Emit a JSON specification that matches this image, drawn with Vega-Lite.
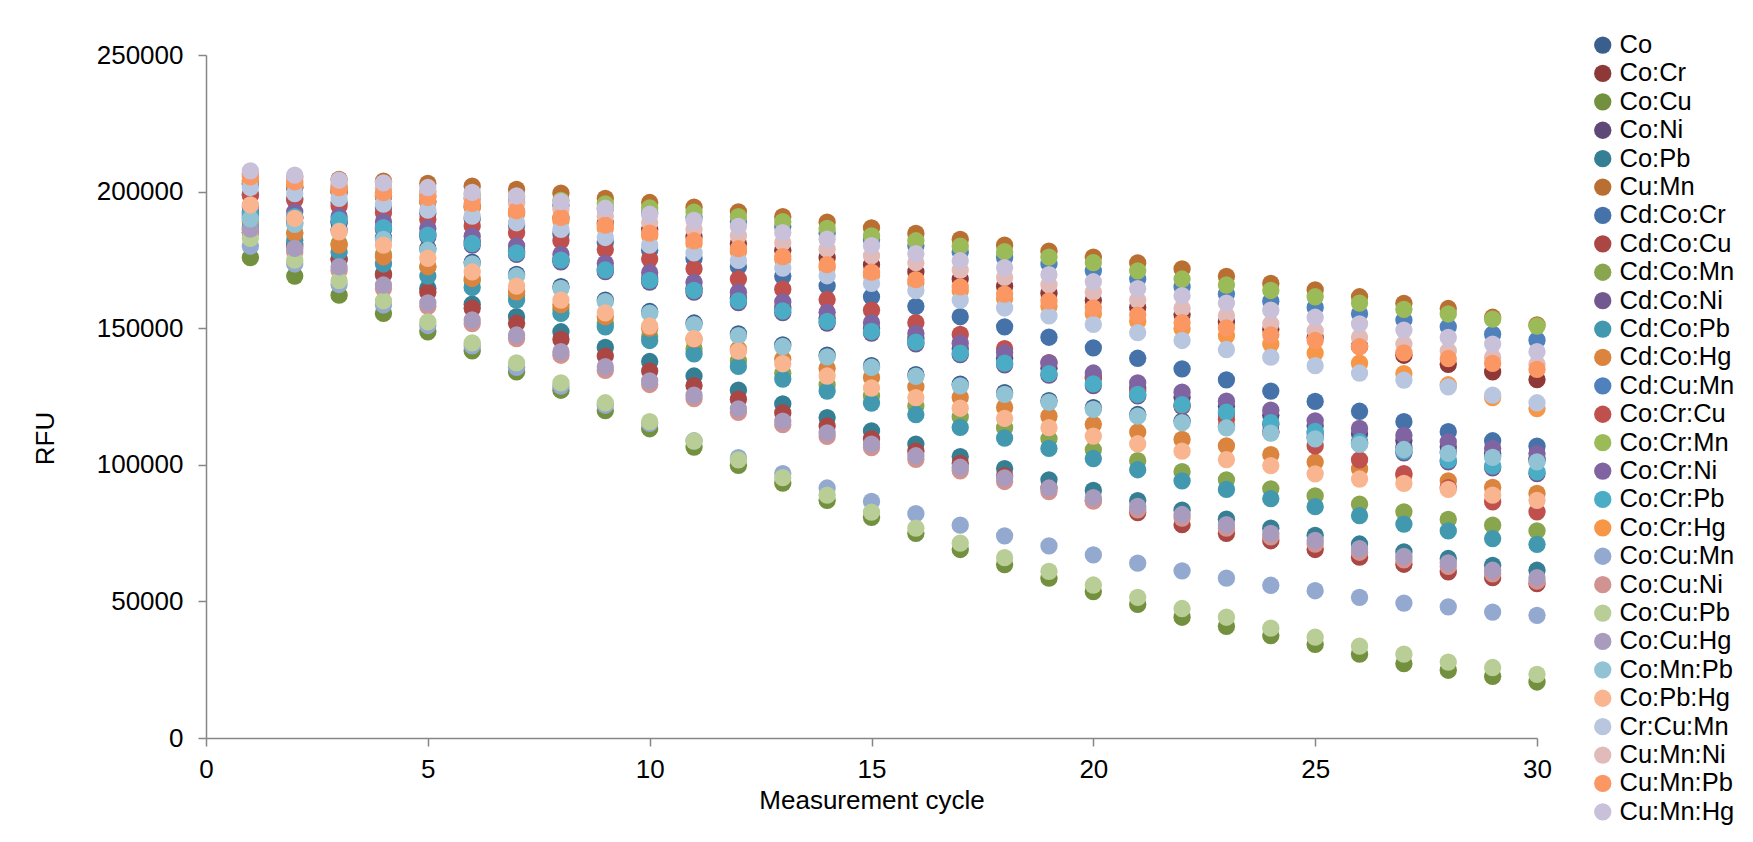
{
  "$schema": "https://vega.github.io/schema/vega-lite/v6.json",
  "width": 1331,
  "height": 683,
  "autosize": {"type": "none"},
  "padding": {"left": 206, "top": 55, "right": 216, "bottom": 104},
  "background": "white",
  "config": {"font": "Liberation Sans", "view": {"stroke": null}},
  "data": {"values": [
{"series":"Co","cycle":1,"rfu":190600},{"series":"Co","cycle":2,"rfu":188600},{"series":"Co","cycle":3,"rfu":186100},{"series":"Co","cycle":4,"rfu":183100},{"series":"Co","cycle":5,"rfu":179200},{"series":"Co","cycle":6,"rfu":174100},{"series":"Co","cycle":7,"rfu":169700},{"series":"Co","cycle":8,"rfu":165200},{"series":"Co","cycle":9,"rfu":160300},{"series":"Co","cycle":10,"rfu":156100},{"series":"Co","cycle":11,"rfu":151900},{"series":"Co","cycle":12,"rfu":147900},{"series":"Co","cycle":13,"rfu":143900},{"series":"Co","cycle":14,"rfu":140100},{"series":"Co","cycle":15,"rfu":136300},{"series":"Co","cycle":16,"rfu":133000},{"series":"Co","cycle":17,"rfu":129500},{"series":"Co","cycle":18,"rfu":126400},{"series":"Co","cycle":19,"rfu":123500},{"series":"Co","cycle":20,"rfu":120900},{"series":"Co","cycle":21,"rfu":118400},{"series":"Co","cycle":22,"rfu":116000},{"series":"Co","cycle":23,"rfu":114100},{"series":"Co","cycle":24,"rfu":112200},{"series":"Co","cycle":25,"rfu":110100},{"series":"Co","cycle":26,"rfu":108100},{"series":"Co","cycle":27,"rfu":106200},{"series":"Co","cycle":28,"rfu":104800},{"series":"Co","cycle":29,"rfu":103300},{"series":"Co","cycle":30,"rfu":101700},
{"series":"Co:Cr","cycle":1,"rfu":203000},{"series":"Co:Cr","cycle":2,"rfu":201400},{"series":"Co:Cr","cycle":3,"rfu":199800},{"series":"Co:Cr","cycle":4,"rfu":198100},{"series":"Co:Cr","cycle":5,"rfu":196300},{"series":"Co:Cr","cycle":6,"rfu":194400},{"series":"Co:Cr","cycle":7,"rfu":192500},{"series":"Co:Cr","cycle":8,"rfu":190500},{"series":"Co:Cr","cycle":9,"rfu":188500},{"series":"Co:Cr","cycle":10,"rfu":186000},{"series":"Co:Cr","cycle":11,"rfu":183600},{"series":"Co:Cr","cycle":12,"rfu":181000},{"series":"Co:Cr","cycle":13,"rfu":178500},{"series":"Co:Cr","cycle":14,"rfu":175800},{"series":"Co:Cr","cycle":15,"rfu":173200},{"series":"Co:Cr","cycle":16,"rfu":170600},{"series":"Co:Cr","cycle":17,"rfu":168000},{"series":"Co:Cr","cycle":18,"rfu":165400},{"series":"Co:Cr","cycle":19,"rfu":162800},{"series":"Co:Cr","cycle":20,"rfu":160200},{"series":"Co:Cr","cycle":21,"rfu":157600},{"series":"Co:Cr","cycle":22,"rfu":155000},{"series":"Co:Cr","cycle":23,"rfu":152300},{"series":"Co:Cr","cycle":24,"rfu":149600},{"series":"Co:Cr","cycle":25,"rfu":146600},{"series":"Co:Cr","cycle":26,"rfu":143400},{"series":"Co:Cr","cycle":27,"rfu":140100},{"series":"Co:Cr","cycle":28,"rfu":136800},{"series":"Co:Cr","cycle":29,"rfu":134000},{"series":"Co:Cr","cycle":30,"rfu":131200},
{"series":"Co:Cu","cycle":1,"rfu":175800},{"series":"Co:Cu","cycle":2,"rfu":169100},{"series":"Co:Cu","cycle":3,"rfu":162100},{"series":"Co:Cu","cycle":4,"rfu":155400},{"series":"Co:Cu","cycle":5,"rfu":148700},{"series":"Co:Cu","cycle":6,"rfu":141700},{"series":"Co:Cu","cycle":7,"rfu":134000},{"series":"Co:Cu","cycle":8,"rfu":127300},{"series":"Co:Cu","cycle":9,"rfu":119800},{"series":"Co:Cu","cycle":10,"rfu":113200},{"series":"Co:Cu","cycle":11,"rfu":106500},{"series":"Co:Cu","cycle":12,"rfu":99800},{"series":"Co:Cu","cycle":13,"rfu":93300},{"series":"Co:Cu","cycle":14,"rfu":87000},{"series":"Co:Cu","cycle":15,"rfu":80800},{"series":"Co:Cu","cycle":16,"rfu":74900},{"series":"Co:Cu","cycle":17,"rfu":69000},{"series":"Co:Cu","cycle":18,"rfu":63500},{"series":"Co:Cu","cycle":19,"rfu":58500},{"series":"Co:Cu","cycle":20,"rfu":53600},{"series":"Co:Cu","cycle":21,"rfu":48900},{"series":"Co:Cu","cycle":22,"rfu":44200},{"series":"Co:Cu","cycle":23,"rfu":40900},{"series":"Co:Cu","cycle":24,"rfu":37500},{"series":"Co:Cu","cycle":25,"rfu":34300},{"series":"Co:Cu","cycle":26,"rfu":30700},{"series":"Co:Cu","cycle":27,"rfu":27200},{"series":"Co:Cu","cycle":28,"rfu":24800},{"series":"Co:Cu","cycle":29,"rfu":22600},{"series":"Co:Cu","cycle":30,"rfu":20500},
{"series":"Co:Ni","cycle":1,"rfu":192500},{"series":"Co:Ni","cycle":2,"rfu":190600},{"series":"Co:Ni","cycle":3,"rfu":188700},{"series":"Co:Ni","cycle":4,"rfu":186800},{"series":"Co:Ni","cycle":5,"rfu":184400},{"series":"Co:Ni","cycle":6,"rfu":181600},{"series":"Co:Ni","cycle":7,"rfu":178200},{"series":"Co:Ni","cycle":8,"rfu":175000},{"series":"Co:Ni","cycle":9,"rfu":171600},{"series":"Co:Ni","cycle":10,"rfu":168200},{"series":"Co:Ni","cycle":11,"rfu":164600},{"series":"Co:Ni","cycle":12,"rfu":161000},{"series":"Co:Ni","cycle":13,"rfu":157400},{"series":"Co:Ni","cycle":14,"rfu":153600},{"series":"Co:Ni","cycle":15,"rfu":149900},{"series":"Co:Ni","cycle":16,"rfu":146100},{"series":"Co:Ni","cycle":17,"rfu":142500},{"series":"Co:Ni","cycle":18,"rfu":139000},{"series":"Co:Ni","cycle":19,"rfu":135300},{"series":"Co:Ni","cycle":20,"rfu":131700},{"series":"Co:Ni","cycle":21,"rfu":128100},{"series":"Co:Ni","cycle":22,"rfu":124700},{"series":"Co:Ni","cycle":23,"rfu":121400},{"series":"Co:Ni","cycle":24,"rfu":118100},{"series":"Co:Ni","cycle":25,"rfu":114300},{"series":"Co:Ni","cycle":26,"rfu":111400},{"series":"Co:Ni","cycle":27,"rfu":108900},{"series":"Co:Ni","cycle":28,"rfu":106500},{"series":"Co:Ni","cycle":29,"rfu":104200},{"series":"Co:Ni","cycle":30,"rfu":102300},
{"series":"Co:Pb","cycle":1,"rfu":186000},{"series":"Co:Pb","cycle":2,"rfu":180800},{"series":"Co:Pb","cycle":3,"rfu":175300},{"series":"Co:Pb","cycle":4,"rfu":170000},{"series":"Co:Pb","cycle":5,"rfu":164600},{"series":"Co:Pb","cycle":6,"rfu":158800},{"series":"Co:Pb","cycle":7,"rfu":154200},{"series":"Co:Pb","cycle":8,"rfu":148700},{"series":"Co:Pb","cycle":9,"rfu":143000},{"series":"Co:Pb","cycle":10,"rfu":137800},{"series":"Co:Pb","cycle":11,"rfu":132500},{"series":"Co:Pb","cycle":12,"rfu":127300},{"series":"Co:Pb","cycle":13,"rfu":122300},{"series":"Co:Pb","cycle":14,"rfu":117300},{"series":"Co:Pb","cycle":15,"rfu":112400},{"series":"Co:Pb","cycle":16,"rfu":107600},{"series":"Co:Pb","cycle":17,"rfu":103000},{"series":"Co:Pb","cycle":18,"rfu":98600},{"series":"Co:Pb","cycle":19,"rfu":94500},{"series":"Co:Pb","cycle":20,"rfu":90600},{"series":"Co:Pb","cycle":21,"rfu":86900},{"series":"Co:Pb","cycle":22,"rfu":83400},{"series":"Co:Pb","cycle":23,"rfu":80100},{"series":"Co:Pb","cycle":24,"rfu":76800},{"series":"Co:Pb","cycle":25,"rfu":74200},{"series":"Co:Pb","cycle":26,"rfu":71000},{"series":"Co:Pb","cycle":27,"rfu":68100},{"series":"Co:Pb","cycle":28,"rfu":65700},{"series":"Co:Pb","cycle":29,"rfu":63200},{"series":"Co:Pb","cycle":30,"rfu":61400},
{"series":"Cu:Mn","cycle":1,"rfu":206500},{"series":"Cu:Mn","cycle":2,"rfu":205500},{"series":"Cu:Mn","cycle":3,"rfu":204500},{"series":"Cu:Mn","cycle":4,"rfu":203800},{"series":"Cu:Mn","cycle":5,"rfu":203000},{"series":"Cu:Mn","cycle":6,"rfu":202000},{"series":"Cu:Mn","cycle":7,"rfu":200800},{"series":"Cu:Mn","cycle":8,"rfu":199400},{"series":"Cu:Mn","cycle":9,"rfu":197500},{"series":"Cu:Mn","cycle":10,"rfu":196000},{"series":"Cu:Mn","cycle":11,"rfu":194300},{"series":"Cu:Mn","cycle":12,"rfu":192600},{"series":"Cu:Mn","cycle":13,"rfu":190800},{"series":"Cu:Mn","cycle":14,"rfu":188800},{"series":"Cu:Mn","cycle":15,"rfu":186700},{"series":"Cu:Mn","cycle":16,"rfu":184700},{"series":"Cu:Mn","cycle":17,"rfu":182500},{"series":"Cu:Mn","cycle":18,"rfu":180400},{"series":"Cu:Mn","cycle":19,"rfu":178200},{"series":"Cu:Mn","cycle":20,"rfu":176000},{"series":"Cu:Mn","cycle":21,"rfu":173900},{"series":"Cu:Mn","cycle":22,"rfu":171700},{"series":"Cu:Mn","cycle":23,"rfu":169000},{"series":"Cu:Mn","cycle":24,"rfu":166400},{"series":"Cu:Mn","cycle":25,"rfu":164000},{"series":"Cu:Mn","cycle":26,"rfu":161500},{"series":"Cu:Mn","cycle":27,"rfu":159100},{"series":"Cu:Mn","cycle":28,"rfu":157200},{"series":"Cu:Mn","cycle":29,"rfu":154000},{"series":"Cu:Mn","cycle":30,"rfu":151200},
{"series":"Cd:Co:Cr","cycle":1,"rfu":199000},{"series":"Cd:Co:Cr","cycle":2,"rfu":197500},{"series":"Cd:Co:Cr","cycle":3,"rfu":196000},{"series":"Cd:Co:Cr","cycle":4,"rfu":194000},{"series":"Cd:Co:Cr","cycle":5,"rfu":192000},{"series":"Cd:Co:Cr","cycle":6,"rfu":190000},{"series":"Cd:Co:Cr","cycle":7,"rfu":187500},{"series":"Cd:Co:Cr","cycle":8,"rfu":184500},{"series":"Cd:Co:Cr","cycle":9,"rfu":181500},{"series":"Cd:Co:Cr","cycle":10,"rfu":178500},{"series":"Cd:Co:Cr","cycle":11,"rfu":175500},{"series":"Cd:Co:Cr","cycle":12,"rfu":172500},{"series":"Cd:Co:Cr","cycle":13,"rfu":169000},{"series":"Cd:Co:Cr","cycle":14,"rfu":165500},{"series":"Cd:Co:Cr","cycle":15,"rfu":161500},{"series":"Cd:Co:Cr","cycle":16,"rfu":158000},{"series":"Cd:Co:Cr","cycle":17,"rfu":154200},{"series":"Cd:Co:Cr","cycle":18,"rfu":150500},{"series":"Cd:Co:Cr","cycle":19,"rfu":146700},{"series":"Cd:Co:Cr","cycle":20,"rfu":142800},{"series":"Cd:Co:Cr","cycle":21,"rfu":139000},{"series":"Cd:Co:Cr","cycle":22,"rfu":135100},{"series":"Cd:Co:Cr","cycle":23,"rfu":131100},{"series":"Cd:Co:Cr","cycle":24,"rfu":127000},{"series":"Cd:Co:Cr","cycle":25,"rfu":123200},{"series":"Cd:Co:Cr","cycle":26,"rfu":119600},{"series":"Cd:Co:Cr","cycle":27,"rfu":115800},{"series":"Cd:Co:Cr","cycle":28,"rfu":112100},{"series":"Cd:Co:Cr","cycle":29,"rfu":108800},{"series":"Cd:Co:Cr","cycle":30,"rfu":106800},
{"series":"Cd:Co:Cu","cycle":1,"rfu":185000},{"series":"Cd:Co:Cu","cycle":2,"rfu":180000},{"series":"Cd:Co:Cu","cycle":3,"rfu":175200},{"series":"Cd:Co:Cu","cycle":4,"rfu":169500},{"series":"Cd:Co:Cu","cycle":5,"rfu":163200},{"series":"Cd:Co:Cu","cycle":6,"rfu":157300},{"series":"Cd:Co:Cu","cycle":7,"rfu":151800},{"series":"Cd:Co:Cu","cycle":8,"rfu":145900},{"series":"Cd:Co:Cu","cycle":9,"rfu":139800},{"series":"Cd:Co:Cu","cycle":10,"rfu":134300},{"series":"Cd:Co:Cu","cycle":11,"rfu":129000},{"series":"Cd:Co:Cu","cycle":12,"rfu":124000},{"series":"Cd:Co:Cu","cycle":13,"rfu":119000},{"series":"Cd:Co:Cu","cycle":14,"rfu":114200},{"series":"Cd:Co:Cu","cycle":15,"rfu":109500},{"series":"Cd:Co:Cu","cycle":16,"rfu":105000},{"series":"Cd:Co:Cu","cycle":17,"rfu":100500},{"series":"Cd:Co:Cu","cycle":18,"rfu":96000},{"series":"Cd:Co:Cu","cycle":19,"rfu":91500},{"series":"Cd:Co:Cu","cycle":20,"rfu":87000},{"series":"Cd:Co:Cu","cycle":21,"rfu":82500},{"series":"Cd:Co:Cu","cycle":22,"rfu":78100},{"series":"Cd:Co:Cu","cycle":23,"rfu":74900},{"series":"Cd:Co:Cu","cycle":24,"rfu":72200},{"series":"Cd:Co:Cu","cycle":25,"rfu":69000},{"series":"Cd:Co:Cu","cycle":26,"rfu":66200},{"series":"Cd:Co:Cu","cycle":27,"rfu":63600},{"series":"Cd:Co:Cu","cycle":28,"rfu":60800},{"series":"Cd:Co:Cu","cycle":29,"rfu":58700},{"series":"Cd:Co:Cu","cycle":30,"rfu":56500},
{"series":"Cd:Co:Mn","cycle":1,"rfu":189000},{"series":"Cd:Co:Mn","cycle":2,"rfu":185000},{"series":"Cd:Co:Mn","cycle":3,"rfu":181000},{"series":"Cd:Co:Mn","cycle":4,"rfu":177000},{"series":"Cd:Co:Mn","cycle":5,"rfu":172500},{"series":"Cd:Co:Mn","cycle":6,"rfu":167500},{"series":"Cd:Co:Mn","cycle":7,"rfu":162000},{"series":"Cd:Co:Mn","cycle":8,"rfu":157000},{"series":"Cd:Co:Mn","cycle":9,"rfu":152000},{"series":"Cd:Co:Mn","cycle":10,"rfu":147000},{"series":"Cd:Co:Mn","cycle":11,"rfu":142500},{"series":"Cd:Co:Mn","cycle":12,"rfu":138000},{"series":"Cd:Co:Mn","cycle":13,"rfu":133500},{"series":"Cd:Co:Mn","cycle":14,"rfu":129300},{"series":"Cd:Co:Mn","cycle":15,"rfu":125200},{"series":"Cd:Co:Mn","cycle":16,"rfu":121500},{"series":"Cd:Co:Mn","cycle":17,"rfu":117500},{"series":"Cd:Co:Mn","cycle":18,"rfu":113500},{"series":"Cd:Co:Mn","cycle":19,"rfu":109500},{"series":"Cd:Co:Mn","cycle":20,"rfu":105500},{"series":"Cd:Co:Mn","cycle":21,"rfu":101500},{"series":"Cd:Co:Mn","cycle":22,"rfu":97500},{"series":"Cd:Co:Mn","cycle":23,"rfu":94500},{"series":"Cd:Co:Mn","cycle":24,"rfu":91200},{"series":"Cd:Co:Mn","cycle":25,"rfu":88600},{"series":"Cd:Co:Mn","cycle":26,"rfu":85600},{"series":"Cd:Co:Mn","cycle":27,"rfu":82800},{"series":"Cd:Co:Mn","cycle":28,"rfu":80000},{"series":"Cd:Co:Mn","cycle":29,"rfu":77900},{"series":"Cd:Co:Mn","cycle":30,"rfu":75800},
{"series":"Cd:Co:Ni","cycle":1,"rfu":191400},{"series":"Cd:Co:Ni","cycle":2,"rfu":190200},{"series":"Cd:Co:Ni","cycle":3,"rfu":189000},{"series":"Cd:Co:Ni","cycle":4,"rfu":186200},{"series":"Cd:Co:Ni","cycle":5,"rfu":183500},{"series":"Cd:Co:Ni","cycle":6,"rfu":180400},{"series":"Cd:Co:Ni","cycle":7,"rfu":177000},{"series":"Cd:Co:Ni","cycle":8,"rfu":174300},{"series":"Cd:Co:Ni","cycle":9,"rfu":170700},{"series":"Cd:Co:Ni","cycle":10,"rfu":166900},{"series":"Cd:Co:Ni","cycle":11,"rfu":163200},{"series":"Cd:Co:Ni","cycle":12,"rfu":159400},{"series":"Cd:Co:Ni","cycle":13,"rfu":155700},{"series":"Cd:Co:Ni","cycle":14,"rfu":151900},{"series":"Cd:Co:Ni","cycle":15,"rfu":148200},{"series":"Cd:Co:Ni","cycle":16,"rfu":144300},{"series":"Cd:Co:Ni","cycle":17,"rfu":140300},{"series":"Cd:Co:Ni","cycle":18,"rfu":136600},{"series":"Cd:Co:Ni","cycle":19,"rfu":132800},{"series":"Cd:Co:Ni","cycle":20,"rfu":129000},{"series":"Cd:Co:Ni","cycle":21,"rfu":125200},{"series":"Cd:Co:Ni","cycle":22,"rfu":121400},{"series":"Cd:Co:Ni","cycle":23,"rfu":118700},{"series":"Cd:Co:Ni","cycle":24,"rfu":114800},{"series":"Cd:Co:Ni","cycle":25,"rfu":111600},{"series":"Cd:Co:Ni","cycle":26,"rfu":107900},{"series":"Cd:Co:Ni","cycle":27,"rfu":104400},{"series":"Cd:Co:Ni","cycle":28,"rfu":101100},{"series":"Cd:Co:Ni","cycle":29,"rfu":98900},{"series":"Cd:Co:Ni","cycle":30,"rfu":96800},
{"series":"Cd:Co:Pb","cycle":1,"rfu":187000},{"series":"Cd:Co:Pb","cycle":2,"rfu":182200},{"series":"Cd:Co:Pb","cycle":3,"rfu":178000},{"series":"Cd:Co:Pb","cycle":4,"rfu":173500},{"series":"Cd:Co:Pb","cycle":5,"rfu":169100},{"series":"Cd:Co:Pb","cycle":6,"rfu":164900},{"series":"Cd:Co:Pb","cycle":7,"rfu":160300},{"series":"Cd:Co:Pb","cycle":8,"rfu":155400},{"series":"Cd:Co:Pb","cycle":9,"rfu":150500},{"series":"Cd:Co:Pb","cycle":10,"rfu":145500},{"series":"Cd:Co:Pb","cycle":11,"rfu":140600},{"series":"Cd:Co:Pb","cycle":12,"rfu":136000},{"series":"Cd:Co:Pb","cycle":13,"rfu":131400},{"series":"Cd:Co:Pb","cycle":14,"rfu":127000},{"series":"Cd:Co:Pb","cycle":15,"rfu":122600},{"series":"Cd:Co:Pb","cycle":16,"rfu":118400},{"series":"Cd:Co:Pb","cycle":17,"rfu":113700},{"series":"Cd:Co:Pb","cycle":18,"rfu":109800},{"series":"Cd:Co:Pb","cycle":19,"rfu":106000},{"series":"Cd:Co:Pb","cycle":20,"rfu":102300},{"series":"Cd:Co:Pb","cycle":21,"rfu":98200},{"series":"Cd:Co:Pb","cycle":22,"rfu":94100},{"series":"Cd:Co:Pb","cycle":23,"rfu":91000},{"series":"Cd:Co:Pb","cycle":24,"rfu":87600},{"series":"Cd:Co:Pb","cycle":25,"rfu":84700},{"series":"Cd:Co:Pb","cycle":26,"rfu":81400},{"series":"Cd:Co:Pb","cycle":27,"rfu":78300},{"series":"Cd:Co:Pb","cycle":28,"rfu":75800},{"series":"Cd:Co:Pb","cycle":29,"rfu":73000},{"series":"Cd:Co:Pb","cycle":30,"rfu":70900},
{"series":"Cd:Co:Hg","cycle":1,"rfu":189600},{"series":"Cd:Co:Hg","cycle":2,"rfu":184700},{"series":"Cd:Co:Hg","cycle":3,"rfu":180400},{"series":"Cd:Co:Hg","cycle":4,"rfu":176100},{"series":"Cd:Co:Hg","cycle":5,"rfu":172500},{"series":"Cd:Co:Hg","cycle":6,"rfu":168200},{"series":"Cd:Co:Hg","cycle":7,"rfu":163300},{"series":"Cd:Co:Hg","cycle":8,"rfu":158600},{"series":"Cd:Co:Hg","cycle":9,"rfu":154200},{"series":"Cd:Co:Hg","cycle":10,"rfu":150000},{"series":"Cd:Co:Hg","cycle":11,"rfu":146000},{"series":"Cd:Co:Hg","cycle":12,"rfu":142300},{"series":"Cd:Co:Hg","cycle":13,"rfu":138700},{"series":"Cd:Co:Hg","cycle":14,"rfu":135300},{"series":"Cd:Co:Hg","cycle":15,"rfu":132000},{"series":"Cd:Co:Hg","cycle":16,"rfu":128500},{"series":"Cd:Co:Hg","cycle":17,"rfu":124700},{"series":"Cd:Co:Hg","cycle":18,"rfu":121000},{"series":"Cd:Co:Hg","cycle":19,"rfu":117800},{"series":"Cd:Co:Hg","cycle":20,"rfu":114800},{"series":"Cd:Co:Hg","cycle":21,"rfu":112000},{"series":"Cd:Co:Hg","cycle":22,"rfu":109300},{"series":"Cd:Co:Hg","cycle":23,"rfu":106900},{"series":"Cd:Co:Hg","cycle":24,"rfu":103700},{"series":"Cd:Co:Hg","cycle":25,"rfu":101000},{"series":"Cd:Co:Hg","cycle":26,"rfu":98500},{"series":"Cd:Co:Hg","cycle":27,"rfu":96200},{"series":"Cd:Co:Hg","cycle":28,"rfu":94100},{"series":"Cd:Co:Hg","cycle":29,"rfu":91700},{"series":"Cd:Co:Hg","cycle":30,"rfu":89500},
{"series":"Cd:Cu:Mn","cycle":1,"rfu":202500},{"series":"Cd:Cu:Mn","cycle":2,"rfu":201500},{"series":"Cd:Cu:Mn","cycle":3,"rfu":200500},{"series":"Cd:Cu:Mn","cycle":4,"rfu":199500},{"series":"Cd:Cu:Mn","cycle":5,"rfu":198500},{"series":"Cd:Cu:Mn","cycle":6,"rfu":197500},{"series":"Cd:Cu:Mn","cycle":7,"rfu":196300},{"series":"Cd:Cu:Mn","cycle":8,"rfu":195000},{"series":"Cd:Cu:Mn","cycle":9,"rfu":193700},{"series":"Cd:Cu:Mn","cycle":10,"rfu":192200},{"series":"Cd:Cu:Mn","cycle":11,"rfu":190600},{"series":"Cd:Cu:Mn","cycle":12,"rfu":189000},{"series":"Cd:Cu:Mn","cycle":13,"rfu":187200},{"series":"Cd:Cu:Mn","cycle":14,"rfu":184800},{"series":"Cd:Cu:Mn","cycle":15,"rfu":182300},{"series":"Cd:Cu:Mn","cycle":16,"rfu":180200},{"series":"Cd:Cu:Mn","cycle":17,"rfu":178000},{"series":"Cd:Cu:Mn","cycle":18,"rfu":175800},{"series":"Cd:Cu:Mn","cycle":19,"rfu":173500},{"series":"Cd:Cu:Mn","cycle":20,"rfu":171000},{"series":"Cd:Cu:Mn","cycle":21,"rfu":168000},{"series":"Cd:Cu:Mn","cycle":22,"rfu":165100},{"series":"Cd:Cu:Mn","cycle":23,"rfu":162500},{"series":"Cd:Cu:Mn","cycle":24,"rfu":159900},{"series":"Cd:Cu:Mn","cycle":25,"rfu":157600},{"series":"Cd:Cu:Mn","cycle":26,"rfu":155300},{"series":"Cd:Cu:Mn","cycle":27,"rfu":153000},{"series":"Cd:Cu:Mn","cycle":28,"rfu":150500},{"series":"Cd:Cu:Mn","cycle":29,"rfu":147800},{"series":"Cd:Cu:Mn","cycle":30,"rfu":145600},
{"series":"Co:Cr:Cu","cycle":1,"rfu":198700},{"series":"Co:Cr:Cu","cycle":2,"rfu":196900},{"series":"Co:Cr:Cu","cycle":3,"rfu":194700},{"series":"Co:Cr:Cu","cycle":4,"rfu":192300},{"series":"Co:Cr:Cu","cycle":5,"rfu":189800},{"series":"Co:Cr:Cu","cycle":6,"rfu":187400},{"series":"Co:Cr:Cu","cycle":7,"rfu":184900},{"series":"Co:Cr:Cu","cycle":8,"rfu":182000},{"series":"Co:Cr:Cu","cycle":9,"rfu":178800},{"series":"Co:Cr:Cu","cycle":10,"rfu":175300},{"series":"Co:Cr:Cu","cycle":11,"rfu":171800},{"series":"Co:Cr:Cu","cycle":12,"rfu":168000},{"series":"Co:Cr:Cu","cycle":13,"rfu":164300},{"series":"Co:Cr:Cu","cycle":14,"rfu":160500},{"series":"Co:Cr:Cu","cycle":15,"rfu":156600},{"series":"Co:Cr:Cu","cycle":16,"rfu":152000},{"series":"Co:Cr:Cu","cycle":17,"rfu":147700},{"series":"Co:Cr:Cu","cycle":18,"rfu":142500},{"series":"Co:Cr:Cu","cycle":19,"rfu":137400},{"series":"Co:Cr:Cu","cycle":20,"rfu":132200},{"series":"Co:Cr:Cu","cycle":21,"rfu":127000},{"series":"Co:Cr:Cu","cycle":22,"rfu":121800},{"series":"Co:Cr:Cu","cycle":23,"rfu":116700},{"series":"Co:Cr:Cu","cycle":24,"rfu":111800},{"series":"Co:Cr:Cu","cycle":25,"rfu":106900},{"series":"Co:Cr:Cu","cycle":26,"rfu":101800},{"series":"Co:Cr:Cu","cycle":27,"rfu":96800},{"series":"Co:Cr:Cu","cycle":28,"rfu":91600},{"series":"Co:Cr:Cu","cycle":29,"rfu":86400},{"series":"Co:Cr:Cu","cycle":30,"rfu":82800},
{"series":"Co:Cr:Mn","cycle":1,"rfu":204000},{"series":"Co:Cr:Mn","cycle":2,"rfu":203000},{"series":"Co:Cr:Mn","cycle":3,"rfu":202000},{"series":"Co:Cr:Mn","cycle":4,"rfu":201000},{"series":"Co:Cr:Mn","cycle":5,"rfu":200000},{"series":"Co:Cr:Mn","cycle":6,"rfu":199000},{"series":"Co:Cr:Mn","cycle":7,"rfu":198000},{"series":"Co:Cr:Mn","cycle":8,"rfu":196800},{"series":"Co:Cr:Mn","cycle":9,"rfu":195500},{"series":"Co:Cr:Mn","cycle":10,"rfu":194000},{"series":"Co:Cr:Mn","cycle":11,"rfu":192500},{"series":"Co:Cr:Mn","cycle":12,"rfu":190800},{"series":"Co:Cr:Mn","cycle":13,"rfu":189000},{"series":"Co:Cr:Mn","cycle":14,"rfu":186500},{"series":"Co:Cr:Mn","cycle":15,"rfu":183800},{"series":"Co:Cr:Mn","cycle":16,"rfu":182000},{"series":"Co:Cr:Mn","cycle":17,"rfu":180000},{"series":"Co:Cr:Mn","cycle":18,"rfu":178000},{"series":"Co:Cr:Mn","cycle":19,"rfu":176000},{"series":"Co:Cr:Mn","cycle":20,"rfu":174000},{"series":"Co:Cr:Mn","cycle":21,"rfu":171000},{"series":"Co:Cr:Mn","cycle":22,"rfu":168000},{"series":"Co:Cr:Mn","cycle":23,"rfu":165800},{"series":"Co:Cr:Mn","cycle":24,"rfu":163800},{"series":"Co:Cr:Mn","cycle":25,"rfu":161500},{"series":"Co:Cr:Mn","cycle":26,"rfu":159200},{"series":"Co:Cr:Mn","cycle":27,"rfu":156900},{"series":"Co:Cr:Mn","cycle":28,"rfu":155200},{"series":"Co:Cr:Mn","cycle":29,"rfu":153300},{"series":"Co:Cr:Mn","cycle":30,"rfu":150800},
{"series":"Co:Cr:Ni","cycle":1,"rfu":194500},{"series":"Co:Cr:Ni","cycle":2,"rfu":192600},{"series":"Co:Cr:Ni","cycle":3,"rfu":190800},{"series":"Co:Cr:Ni","cycle":4,"rfu":189000},{"series":"Co:Cr:Ni","cycle":5,"rfu":186500},{"series":"Co:Cr:Ni","cycle":6,"rfu":183700},{"series":"Co:Cr:Ni","cycle":7,"rfu":180100},{"series":"Co:Cr:Ni","cycle":8,"rfu":177000},{"series":"Co:Cr:Ni","cycle":9,"rfu":173700},{"series":"Co:Cr:Ni","cycle":10,"rfu":170300},{"series":"Co:Cr:Ni","cycle":11,"rfu":166800},{"series":"Co:Cr:Ni","cycle":12,"rfu":163200},{"series":"Co:Cr:Ni","cycle":13,"rfu":159600},{"series":"Co:Cr:Ni","cycle":14,"rfu":155800},{"series":"Co:Cr:Ni","cycle":15,"rfu":152000},{"series":"Co:Cr:Ni","cycle":16,"rfu":148100},{"series":"Co:Cr:Ni","cycle":17,"rfu":144500},{"series":"Co:Cr:Ni","cycle":18,"rfu":141000},{"series":"Co:Cr:Ni","cycle":19,"rfu":137300},{"series":"Co:Cr:Ni","cycle":20,"rfu":133600},{"series":"Co:Cr:Ni","cycle":21,"rfu":130000},{"series":"Co:Cr:Ni","cycle":22,"rfu":126600},{"series":"Co:Cr:Ni","cycle":23,"rfu":123300},{"series":"Co:Cr:Ni","cycle":24,"rfu":120000},{"series":"Co:Cr:Ni","cycle":25,"rfu":116100},{"series":"Co:Cr:Ni","cycle":26,"rfu":113300},{"series":"Co:Cr:Ni","cycle":27,"rfu":110800},{"series":"Co:Cr:Ni","cycle":28,"rfu":108400},{"series":"Co:Cr:Ni","cycle":29,"rfu":106000},{"series":"Co:Cr:Ni","cycle":30,"rfu":104100},
{"series":"Co:Cr:Pb","cycle":1,"rfu":192000},{"series":"Co:Cr:Pb","cycle":2,"rfu":190800},{"series":"Co:Cr:Pb","cycle":3,"rfu":189600},{"series":"Co:Cr:Pb","cycle":4,"rfu":186800},{"series":"Co:Cr:Pb","cycle":5,"rfu":184100},{"series":"Co:Cr:Pb","cycle":6,"rfu":181000},{"series":"Co:Cr:Pb","cycle":7,"rfu":177600},{"series":"Co:Cr:Pb","cycle":8,"rfu":174900},{"series":"Co:Cr:Pb","cycle":9,"rfu":171300},{"series":"Co:Cr:Pb","cycle":10,"rfu":167500},{"series":"Co:Cr:Pb","cycle":11,"rfu":163800},{"series":"Co:Cr:Pb","cycle":12,"rfu":160000},{"series":"Co:Cr:Pb","cycle":13,"rfu":156300},{"series":"Co:Cr:Pb","cycle":14,"rfu":152500},{"series":"Co:Cr:Pb","cycle":15,"rfu":148800},{"series":"Co:Cr:Pb","cycle":16,"rfu":144900},{"series":"Co:Cr:Pb","cycle":17,"rfu":140900},{"series":"Co:Cr:Pb","cycle":18,"rfu":137200},{"series":"Co:Cr:Pb","cycle":19,"rfu":133400},{"series":"Co:Cr:Pb","cycle":20,"rfu":129600},{"series":"Co:Cr:Pb","cycle":21,"rfu":125800},{"series":"Co:Cr:Pb","cycle":22,"rfu":122000},{"series":"Co:Cr:Pb","cycle":23,"rfu":119300},{"series":"Co:Cr:Pb","cycle":24,"rfu":115400},{"series":"Co:Cr:Pb","cycle":25,"rfu":112200},{"series":"Co:Cr:Pb","cycle":26,"rfu":108500},{"series":"Co:Cr:Pb","cycle":27,"rfu":105000},{"series":"Co:Cr:Pb","cycle":28,"rfu":101700},{"series":"Co:Cr:Pb","cycle":29,"rfu":99500},{"series":"Co:Cr:Pb","cycle":30,"rfu":97400},
{"series":"Co:Cr:Hg","cycle":1,"rfu":204000},{"series":"Co:Cr:Hg","cycle":2,"rfu":202200},{"series":"Co:Cr:Hg","cycle":3,"rfu":200300},{"series":"Co:Cr:Hg","cycle":4,"rfu":198400},{"series":"Co:Cr:Hg","cycle":5,"rfu":196400},{"series":"Co:Cr:Hg","cycle":6,"rfu":194200},{"series":"Co:Cr:Hg","cycle":7,"rfu":191800},{"series":"Co:Cr:Hg","cycle":8,"rfu":189300},{"series":"Co:Cr:Hg","cycle":9,"rfu":186600},{"series":"Co:Cr:Hg","cycle":10,"rfu":183800},{"series":"Co:Cr:Hg","cycle":11,"rfu":181000},{"series":"Co:Cr:Hg","cycle":12,"rfu":178100},{"series":"Co:Cr:Hg","cycle":13,"rfu":175200},{"series":"Co:Cr:Hg","cycle":14,"rfu":172300},{"series":"Co:Cr:Hg","cycle":15,"rfu":169300},{"series":"Co:Cr:Hg","cycle":16,"rfu":166500},{"series":"Co:Cr:Hg","cycle":17,"rfu":163600},{"series":"Co:Cr:Hg","cycle":18,"rfu":160800},{"series":"Co:Cr:Hg","cycle":19,"rfu":158000},{"series":"Co:Cr:Hg","cycle":20,"rfu":155200},{"series":"Co:Cr:Hg","cycle":21,"rfu":152500},{"series":"Co:Cr:Hg","cycle":22,"rfu":149800},{"series":"Co:Cr:Hg","cycle":23,"rfu":147200},{"series":"Co:Cr:Hg","cycle":24,"rfu":144200},{"series":"Co:Cr:Hg","cycle":25,"rfu":140900},{"series":"Co:Cr:Hg","cycle":26,"rfu":137200},{"series":"Co:Cr:Hg","cycle":27,"rfu":133400},{"series":"Co:Cr:Hg","cycle":28,"rfu":129300},{"series":"Co:Cr:Hg","cycle":29,"rfu":124600},{"series":"Co:Cr:Hg","cycle":30,"rfu":120600},
{"series":"Co:Cu:Mn","cycle":1,"rfu":180000},{"series":"Co:Cu:Mn","cycle":2,"rfu":173500},{"series":"Co:Cu:Mn","cycle":3,"rfu":166000},{"series":"Co:Cu:Mn","cycle":4,"rfu":158500},{"series":"Co:Cu:Mn","cycle":5,"rfu":151000},{"series":"Co:Cu:Mn","cycle":6,"rfu":143500},{"series":"Co:Cu:Mn","cycle":7,"rfu":135700},{"series":"Co:Cu:Mn","cycle":8,"rfu":128800},{"series":"Co:Cu:Mn","cycle":9,"rfu":121800},{"series":"Co:Cu:Mn","cycle":10,"rfu":115200},{"series":"Co:Cu:Mn","cycle":11,"rfu":108800},{"series":"Co:Cu:Mn","cycle":12,"rfu":102600},{"series":"Co:Cu:Mn","cycle":13,"rfu":96800},{"series":"Co:Cu:Mn","cycle":14,"rfu":91500},{"series":"Co:Cu:Mn","cycle":15,"rfu":86600},{"series":"Co:Cu:Mn","cycle":16,"rfu":82100},{"series":"Co:Cu:Mn","cycle":17,"rfu":77900},{"series":"Co:Cu:Mn","cycle":18,"rfu":74000},{"series":"Co:Cu:Mn","cycle":19,"rfu":70300},{"series":"Co:Cu:Mn","cycle":20,"rfu":67000},{"series":"Co:Cu:Mn","cycle":21,"rfu":64000},{"series":"Co:Cu:Mn","cycle":22,"rfu":61200},{"series":"Co:Cu:Mn","cycle":23,"rfu":58500},{"series":"Co:Cu:Mn","cycle":24,"rfu":55900},{"series":"Co:Cu:Mn","cycle":25,"rfu":53900},{"series":"Co:Cu:Mn","cycle":26,"rfu":51500},{"series":"Co:Cu:Mn","cycle":27,"rfu":49400},{"series":"Co:Cu:Mn","cycle":28,"rfu":48000},{"series":"Co:Cu:Mn","cycle":29,"rfu":46100},{"series":"Co:Cu:Mn","cycle":30,"rfu":44900},
{"series":"Co:Cu:Ni","cycle":1,"rfu":185000},{"series":"Co:Cu:Ni","cycle":2,"rfu":177900},{"series":"Co:Cu:Ni","cycle":3,"rfu":171200},{"series":"Co:Cu:Ni","cycle":4,"rfu":164500},{"series":"Co:Cu:Ni","cycle":5,"rfu":158000},{"series":"Co:Cu:Ni","cycle":6,"rfu":151700},{"series":"Co:Cu:Ni","cycle":7,"rfu":146200},{"series":"Co:Cu:Ni","cycle":8,"rfu":140100},{"series":"Co:Cu:Ni","cycle":9,"rfu":134600},{"series":"Co:Cu:Ni","cycle":10,"rfu":129400},{"series":"Co:Cu:Ni","cycle":11,"rfu":124200},{"series":"Co:Cu:Ni","cycle":12,"rfu":119200},{"series":"Co:Cu:Ni","cycle":13,"rfu":114700},{"series":"Co:Cu:Ni","cycle":14,"rfu":110400},{"series":"Co:Cu:Ni","cycle":15,"rfu":106300},{"series":"Co:Cu:Ni","cycle":16,"rfu":102000},{"series":"Co:Cu:Ni","cycle":17,"rfu":97800},{"series":"Co:Cu:Ni","cycle":18,"rfu":93900},{"series":"Co:Cu:Ni","cycle":19,"rfu":90200},{"series":"Co:Cu:Ni","cycle":20,"rfu":86700},{"series":"Co:Cu:Ni","cycle":21,"rfu":83500},{"series":"Co:Cu:Ni","cycle":22,"rfu":80500},{"series":"Co:Cu:Ni","cycle":23,"rfu":76800},{"series":"Co:Cu:Ni","cycle":24,"rfu":73600},{"series":"Co:Cu:Ni","cycle":25,"rfu":71000},{"series":"Co:Cu:Ni","cycle":26,"rfu":68000},{"series":"Co:Cu:Ni","cycle":27,"rfu":65200},{"series":"Co:Cu:Ni","cycle":28,"rfu":62800},{"series":"Co:Cu:Ni","cycle":29,"rfu":60100},{"series":"Co:Cu:Ni","cycle":30,"rfu":57400},
{"series":"Co:Cu:Pb","cycle":1,"rfu":182900},{"series":"Co:Cu:Pb","cycle":2,"rfu":174900},{"series":"Co:Cu:Pb","cycle":3,"rfu":167400},{"series":"Co:Cu:Pb","cycle":4,"rfu":160000},{"series":"Co:Cu:Pb","cycle":5,"rfu":152300},{"series":"Co:Cu:Pb","cycle":6,"rfu":144600},{"series":"Co:Cu:Pb","cycle":7,"rfu":137300},{"series":"Co:Cu:Pb","cycle":8,"rfu":130000},{"series":"Co:Cu:Pb","cycle":9,"rfu":122700},{"series":"Co:Cu:Pb","cycle":10,"rfu":115800},{"series":"Co:Cu:Pb","cycle":11,"rfu":108700},{"series":"Co:Cu:Pb","cycle":12,"rfu":101800},{"series":"Co:Cu:Pb","cycle":13,"rfu":95300},{"series":"Co:Cu:Pb","cycle":14,"rfu":88900},{"series":"Co:Cu:Pb","cycle":15,"rfu":82700},{"series":"Co:Cu:Pb","cycle":16,"rfu":76800},{"series":"Co:Cu:Pb","cycle":17,"rfu":71300},{"series":"Co:Cu:Pb","cycle":18,"rfu":66000},{"series":"Co:Cu:Pb","cycle":19,"rfu":61000},{"series":"Co:Cu:Pb","cycle":20,"rfu":56000},{"series":"Co:Cu:Pb","cycle":21,"rfu":51500},{"series":"Co:Cu:Pb","cycle":22,"rfu":47400},{"series":"Co:Cu:Pb","cycle":23,"rfu":44200},{"series":"Co:Cu:Pb","cycle":24,"rfu":40200},{"series":"Co:Cu:Pb","cycle":25,"rfu":36900},{"series":"Co:Cu:Pb","cycle":26,"rfu":33600},{"series":"Co:Cu:Pb","cycle":27,"rfu":30700},{"series":"Co:Cu:Pb","cycle":28,"rfu":27800},{"series":"Co:Cu:Pb","cycle":29,"rfu":25800},{"series":"Co:Cu:Pb","cycle":30,"rfu":23300},
{"series":"Co:Cu:Hg","cycle":1,"rfu":186300},{"series":"Co:Cu:Hg","cycle":2,"rfu":179200},{"series":"Co:Cu:Hg","cycle":3,"rfu":172500},{"series":"Co:Cu:Hg","cycle":4,"rfu":165800},{"series":"Co:Cu:Hg","cycle":5,"rfu":159300},{"series":"Co:Cu:Hg","cycle":6,"rfu":153000},{"series":"Co:Cu:Hg","cycle":7,"rfu":147500},{"series":"Co:Cu:Hg","cycle":8,"rfu":141400},{"series":"Co:Cu:Hg","cycle":9,"rfu":135900},{"series":"Co:Cu:Hg","cycle":10,"rfu":130700},{"series":"Co:Cu:Hg","cycle":11,"rfu":125500},{"series":"Co:Cu:Hg","cycle":12,"rfu":120500},{"series":"Co:Cu:Hg","cycle":13,"rfu":116000},{"series":"Co:Cu:Hg","cycle":14,"rfu":111700},{"series":"Co:Cu:Hg","cycle":15,"rfu":107600},{"series":"Co:Cu:Hg","cycle":16,"rfu":103300},{"series":"Co:Cu:Hg","cycle":17,"rfu":99100},{"series":"Co:Cu:Hg","cycle":18,"rfu":95200},{"series":"Co:Cu:Hg","cycle":19,"rfu":91500},{"series":"Co:Cu:Hg","cycle":20,"rfu":88000},{"series":"Co:Cu:Hg","cycle":21,"rfu":84800},{"series":"Co:Cu:Hg","cycle":22,"rfu":81800},{"series":"Co:Cu:Hg","cycle":23,"rfu":78100},{"series":"Co:Cu:Hg","cycle":24,"rfu":74900},{"series":"Co:Cu:Hg","cycle":25,"rfu":72300},{"series":"Co:Cu:Hg","cycle":26,"rfu":69300},{"series":"Co:Cu:Hg","cycle":27,"rfu":66500},{"series":"Co:Cu:Hg","cycle":28,"rfu":64100},{"series":"Co:Cu:Hg","cycle":29,"rfu":61400},{"series":"Co:Cu:Hg","cycle":30,"rfu":58700},
{"series":"Co:Mn:Pb","cycle":1,"rfu":190000},{"series":"Co:Mn:Pb","cycle":2,"rfu":188000},{"series":"Co:Mn:Pb","cycle":3,"rfu":185500},{"series":"Co:Mn:Pb","cycle":4,"rfu":182500},{"series":"Co:Mn:Pb","cycle":5,"rfu":178600},{"series":"Co:Mn:Pb","cycle":6,"rfu":173500},{"series":"Co:Mn:Pb","cycle":7,"rfu":169100},{"series":"Co:Mn:Pb","cycle":8,"rfu":164600},{"series":"Co:Mn:Pb","cycle":9,"rfu":159700},{"series":"Co:Mn:Pb","cycle":10,"rfu":155500},{"series":"Co:Mn:Pb","cycle":11,"rfu":151300},{"series":"Co:Mn:Pb","cycle":12,"rfu":147300},{"series":"Co:Mn:Pb","cycle":13,"rfu":143300},{"series":"Co:Mn:Pb","cycle":14,"rfu":139500},{"series":"Co:Mn:Pb","cycle":15,"rfu":135700},{"series":"Co:Mn:Pb","cycle":16,"rfu":132400},{"series":"Co:Mn:Pb","cycle":17,"rfu":128900},{"series":"Co:Mn:Pb","cycle":18,"rfu":125800},{"series":"Co:Mn:Pb","cycle":19,"rfu":122900},{"series":"Co:Mn:Pb","cycle":20,"rfu":120300},{"series":"Co:Mn:Pb","cycle":21,"rfu":117800},{"series":"Co:Mn:Pb","cycle":22,"rfu":115400},{"series":"Co:Mn:Pb","cycle":23,"rfu":113500},{"series":"Co:Mn:Pb","cycle":24,"rfu":111600},{"series":"Co:Mn:Pb","cycle":25,"rfu":109500},{"series":"Co:Mn:Pb","cycle":26,"rfu":107500},{"series":"Co:Mn:Pb","cycle":27,"rfu":105600},{"series":"Co:Mn:Pb","cycle":28,"rfu":104200},{"series":"Co:Mn:Pb","cycle":29,"rfu":102700},{"series":"Co:Mn:Pb","cycle":30,"rfu":101100},
{"series":"Co:Pb:Hg","cycle":1,"rfu":195100},{"series":"Co:Pb:Hg","cycle":2,"rfu":190200},{"series":"Co:Pb:Hg","cycle":3,"rfu":185300},{"series":"Co:Pb:Hg","cycle":4,"rfu":180400},{"series":"Co:Pb:Hg","cycle":5,"rfu":175600},{"series":"Co:Pb:Hg","cycle":6,"rfu":170600},{"series":"Co:Pb:Hg","cycle":7,"rfu":165400},{"series":"Co:Pb:Hg","cycle":8,"rfu":160300},{"series":"Co:Pb:Hg","cycle":9,"rfu":155600},{"series":"Co:Pb:Hg","cycle":10,"rfu":150800},{"series":"Co:Pb:Hg","cycle":11,"rfu":146200},{"series":"Co:Pb:Hg","cycle":12,"rfu":141600},{"series":"Co:Pb:Hg","cycle":13,"rfu":137000},{"series":"Co:Pb:Hg","cycle":14,"rfu":132500},{"series":"Co:Pb:Hg","cycle":15,"rfu":128100},{"series":"Co:Pb:Hg","cycle":16,"rfu":124600},{"series":"Co:Pb:Hg","cycle":17,"rfu":120700},{"series":"Co:Pb:Hg","cycle":18,"rfu":117000},{"series":"Co:Pb:Hg","cycle":19,"rfu":113600},{"series":"Co:Pb:Hg","cycle":20,"rfu":110500},{"series":"Co:Pb:Hg","cycle":21,"rfu":107700},{"series":"Co:Pb:Hg","cycle":22,"rfu":105000},{"series":"Co:Pb:Hg","cycle":23,"rfu":101900},{"series":"Co:Pb:Hg","cycle":24,"rfu":99700},{"series":"Co:Pb:Hg","cycle":25,"rfu":96700},{"series":"Co:Pb:Hg","cycle":26,"rfu":94800},{"series":"Co:Pb:Hg","cycle":27,"rfu":93200},{"series":"Co:Pb:Hg","cycle":28,"rfu":91000},{"series":"Co:Pb:Hg","cycle":29,"rfu":88900},{"series":"Co:Pb:Hg","cycle":30,"rfu":87000},
{"series":"Cr:Cu:Mn","cycle":1,"rfu":201500},{"series":"Cr:Cu:Mn","cycle":2,"rfu":199300},{"series":"Cr:Cu:Mn","cycle":3,"rfu":197500},{"series":"Cr:Cu:Mn","cycle":4,"rfu":195400},{"series":"Cr:Cu:Mn","cycle":5,"rfu":193200},{"series":"Cr:Cu:Mn","cycle":6,"rfu":191000},{"series":"Cr:Cu:Mn","cycle":7,"rfu":188600},{"series":"Cr:Cu:Mn","cycle":8,"rfu":186200},{"series":"Cr:Cu:Mn","cycle":9,"rfu":183200},{"series":"Cr:Cu:Mn","cycle":10,"rfu":180400},{"series":"Cr:Cu:Mn","cycle":11,"rfu":177600},{"series":"Cr:Cu:Mn","cycle":12,"rfu":174800},{"series":"Cr:Cu:Mn","cycle":13,"rfu":172000},{"series":"Cr:Cu:Mn","cycle":14,"rfu":169200},{"series":"Cr:Cu:Mn","cycle":15,"rfu":166400},{"series":"Cr:Cu:Mn","cycle":16,"rfu":163800},{"series":"Cr:Cu:Mn","cycle":17,"rfu":160300},{"series":"Cr:Cu:Mn","cycle":18,"rfu":157400},{"series":"Cr:Cu:Mn","cycle":19,"rfu":154500},{"series":"Cr:Cu:Mn","cycle":20,"rfu":151400},{"series":"Cr:Cu:Mn","cycle":21,"rfu":148400},{"series":"Cr:Cu:Mn","cycle":22,"rfu":145500},{"series":"Cr:Cu:Mn","cycle":23,"rfu":142200},{"series":"Cr:Cu:Mn","cycle":24,"rfu":139400},{"series":"Cr:Cu:Mn","cycle":25,"rfu":136300},{"series":"Cr:Cu:Mn","cycle":26,"rfu":133600},{"series":"Cr:Cu:Mn","cycle":27,"rfu":131000},{"series":"Cr:Cu:Mn","cycle":28,"rfu":128500},{"series":"Cr:Cu:Mn","cycle":29,"rfu":125500},{"series":"Cr:Cu:Mn","cycle":30,"rfu":122700},
{"series":"Cu:Mn:Ni","cycle":1,"rfu":206300},{"series":"Cu:Mn:Ni","cycle":2,"rfu":204800},{"series":"Cu:Mn:Ni","cycle":3,"rfu":203000},{"series":"Cu:Mn:Ni","cycle":4,"rfu":201500},{"series":"Cu:Mn:Ni","cycle":5,"rfu":199800},{"series":"Cu:Mn:Ni","cycle":6,"rfu":197800},{"series":"Cu:Mn:Ni","cycle":7,"rfu":195800},{"series":"Cu:Mn:Ni","cycle":8,"rfu":193500},{"series":"Cu:Mn:Ni","cycle":9,"rfu":191000},{"series":"Cu:Mn:Ni","cycle":10,"rfu":188600},{"series":"Cu:Mn:Ni","cycle":11,"rfu":186200},{"series":"Cu:Mn:Ni","cycle":12,"rfu":183800},{"series":"Cu:Mn:Ni","cycle":13,"rfu":181300},{"series":"Cu:Mn:Ni","cycle":14,"rfu":178900},{"series":"Cu:Mn:Ni","cycle":15,"rfu":176500},{"series":"Cu:Mn:Ni","cycle":16,"rfu":174000},{"series":"Cu:Mn:Ni","cycle":17,"rfu":171300},{"series":"Cu:Mn:Ni","cycle":18,"rfu":168600},{"series":"Cu:Mn:Ni","cycle":19,"rfu":165900},{"series":"Cu:Mn:Ni","cycle":20,"rfu":163200},{"series":"Cu:Mn:Ni","cycle":21,"rfu":160300},{"series":"Cu:Mn:Ni","cycle":22,"rfu":157300},{"series":"Cu:Mn:Ni","cycle":23,"rfu":154600},{"series":"Cu:Mn:Ni","cycle":24,"rfu":151600},{"series":"Cu:Mn:Ni","cycle":25,"rfu":149000},{"series":"Cu:Mn:Ni","cycle":26,"rfu":146600},{"series":"Cu:Mn:Ni","cycle":27,"rfu":144200},{"series":"Cu:Mn:Ni","cycle":28,"rfu":141700},{"series":"Cu:Mn:Ni","cycle":29,"rfu":139300},{"series":"Cu:Mn:Ni","cycle":30,"rfu":136800},
{"series":"Cu:Mn:Pb","cycle":1,"rfu":205400},{"series":"Cu:Mn:Pb","cycle":2,"rfu":203600},{"series":"Cu:Mn:Pb","cycle":3,"rfu":201500},{"series":"Cu:Mn:Pb","cycle":4,"rfu":199600},{"series":"Cu:Mn:Pb","cycle":5,"rfu":197900},{"series":"Cu:Mn:Pb","cycle":6,"rfu":195700},{"series":"Cu:Mn:Pb","cycle":7,"rfu":193000},{"series":"Cu:Mn:Pb","cycle":8,"rfu":190600},{"series":"Cu:Mn:Pb","cycle":9,"rfu":187700},{"series":"Cu:Mn:Pb","cycle":10,"rfu":184800},{"series":"Cu:Mn:Pb","cycle":11,"rfu":182000},{"series":"Cu:Mn:Pb","cycle":12,"rfu":179100},{"series":"Cu:Mn:Pb","cycle":13,"rfu":176200},{"series":"Cu:Mn:Pb","cycle":14,"rfu":173300},{"series":"Cu:Mn:Pb","cycle":15,"rfu":170500},{"series":"Cu:Mn:Pb","cycle":16,"rfu":167800},{"series":"Cu:Mn:Pb","cycle":17,"rfu":165100},{"series":"Cu:Mn:Pb","cycle":18,"rfu":162500},{"series":"Cu:Mn:Pb","cycle":19,"rfu":160000},{"series":"Cu:Mn:Pb","cycle":20,"rfu":157400},{"series":"Cu:Mn:Pb","cycle":21,"rfu":154800},{"series":"Cu:Mn:Pb","cycle":22,"rfu":152000},{"series":"Cu:Mn:Pb","cycle":23,"rfu":150100},{"series":"Cu:Mn:Pb","cycle":24,"rfu":147500},{"series":"Cu:Mn:Pb","cycle":25,"rfu":145500},{"series":"Cu:Mn:Pb","cycle":26,"rfu":143200},{"series":"Cu:Mn:Pb","cycle":27,"rfu":141000},{"series":"Cu:Mn:Pb","cycle":28,"rfu":138900},{"series":"Cu:Mn:Pb","cycle":29,"rfu":137100},{"series":"Cu:Mn:Pb","cycle":30,"rfu":134900},
{"series":"Cu:Mn:Hg","cycle":1,"rfu":207600},{"series":"Cu:Mn:Hg","cycle":2,"rfu":206000},{"series":"Cu:Mn:Hg","cycle":3,"rfu":204200},{"series":"Cu:Mn:Hg","cycle":4,"rfu":203200},{"series":"Cu:Mn:Hg","cycle":5,"rfu":201500},{"series":"Cu:Mn:Hg","cycle":6,"rfu":199700},{"series":"Cu:Mn:Hg","cycle":7,"rfu":198400},{"series":"Cu:Mn:Hg","cycle":8,"rfu":196300},{"series":"Cu:Mn:Hg","cycle":9,"rfu":193900},{"series":"Cu:Mn:Hg","cycle":10,"rfu":191700},{"series":"Cu:Mn:Hg","cycle":11,"rfu":189500},{"series":"Cu:Mn:Hg","cycle":12,"rfu":187300},{"series":"Cu:Mn:Hg","cycle":13,"rfu":185000},{"series":"Cu:Mn:Hg","cycle":14,"rfu":182600},{"series":"Cu:Mn:Hg","cycle":15,"rfu":180200},{"series":"Cu:Mn:Hg","cycle":16,"rfu":177300},{"series":"Cu:Mn:Hg","cycle":17,"rfu":174700},{"series":"Cu:Mn:Hg","cycle":18,"rfu":172200},{"series":"Cu:Mn:Hg","cycle":19,"rfu":169600},{"series":"Cu:Mn:Hg","cycle":20,"rfu":167000},{"series":"Cu:Mn:Hg","cycle":21,"rfu":164500},{"series":"Cu:Mn:Hg","cycle":22,"rfu":161900},{"series":"Cu:Mn:Hg","cycle":23,"rfu":159200},{"series":"Cu:Mn:Hg","cycle":24,"rfu":156600},{"series":"Cu:Mn:Hg","cycle":25,"rfu":154000},{"series":"Cu:Mn:Hg","cycle":26,"rfu":151600},{"series":"Cu:Mn:Hg","cycle":27,"rfu":149300},{"series":"Cu:Mn:Hg","cycle":28,"rfu":146600},{"series":"Cu:Mn:Hg","cycle":29,"rfu":144200},{"series":"Cu:Mn:Hg","cycle":30,"rfu":141400}
  ]},
  "mark": {"type": "circle", "size": 300, "opacity": 1, "strokeWidth": 0},
  "encoding": {
    "x": {
      "field": "cycle", "type": "quantitative",
      "scale": {"domain": [0, 30], "nice": false, "zero": true},
      "axis": {
        "values": [0, 5, 10, 15, 20, 25, 30], "grid": false, "labelFlush": false,
        "domainColor": "#868686", "domainWidth": 1.5, "tickColor": "#868686", "tickWidth": 1.5, "tickSize": 8,
        "labelFontSize": 26, "labelColor": "#000000", "labelPadding": 10,
        "title": "Measurement cycle", "titleFontSize": 26, "titleFontWeight": "normal", "titleColor": "#000000",
        "titleBaseline": "middle", "titleY": 62
      }
    },
    "y": {
      "field": "rfu", "type": "quantitative",
      "scale": {"domain": [0, 250000], "nice": false},
      "axis": {
        "values": [0, 50000, 100000, 150000, 200000, 250000], "format": "d", "grid": false,
        "domainColor": "#868686", "domainWidth": 1.5, "tickColor": "#868686", "tickWidth": 1.5, "tickSize": 8,
        "labelFontSize": 26, "labelColor": "#000000", "labelPadding": 15,
        "title": "RFU", "titleFontSize": 26, "titleFontWeight": "normal", "titleColor": "#000000",
        "titleAngle": -90, "titleBaseline": "middle", "titleAlign": "center", "titleX": -161, "titleY": 383
      }
    },
    "color": {
      "field": "series", "type": "nominal",
      "scale": {
        "domain": ["Co", "Co:Cr", "Co:Cu", "Co:Ni", "Co:Pb", "Cu:Mn", "Cd:Co:Cr", "Cd:Co:Cu", "Cd:Co:Mn", "Cd:Co:Ni", "Cd:Co:Pb", "Cd:Co:Hg", "Cd:Cu:Mn", "Co:Cr:Cu", "Co:Cr:Mn", "Co:Cr:Ni", "Co:Cr:Pb", "Co:Cr:Hg", "Co:Cu:Mn", "Co:Cu:Ni", "Co:Cu:Pb", "Co:Cu:Hg", "Co:Mn:Pb", "Co:Pb:Hg", "Cr:Cu:Mn", "Cu:Mn:Ni", "Cu:Mn:Pb", "Cu:Mn:Hg"],
        "range": ["#3B5F8D", "#8E3937", "#73903E", "#5E4878", "#347F93", "#B96F31", "#4672AA", "#AA4643", "#89A54E", "#71588F", "#4198AF", "#DB843D", "#4F81BD", "#C0504D", "#9BBB59", "#8064A2", "#4BACC6", "#F79646", "#93A9CF", "#D19392", "#B9CD96", "#A99BBD", "#91C3D5", "#F9B590", "#B9C6E0", "#E0BBBA", "#FA9763", "#C9C0DA"]
      },
      "legend": {
        "orient": "none", "legendX": 1384, "legendY": -22.7, "direction": "vertical",
        "title": null, "padding": 0, "symbolType": "circle", "symbolSize": 300,
        "symbolStrokeWidth": 0, "symbolOpacity": 1, "labelFontSize": 25.5, "labelColor": "#000000",
        "labelOffset": 4, "rowPadding": 1.4, "labelLimit": 300
      }
    }
  }
}
